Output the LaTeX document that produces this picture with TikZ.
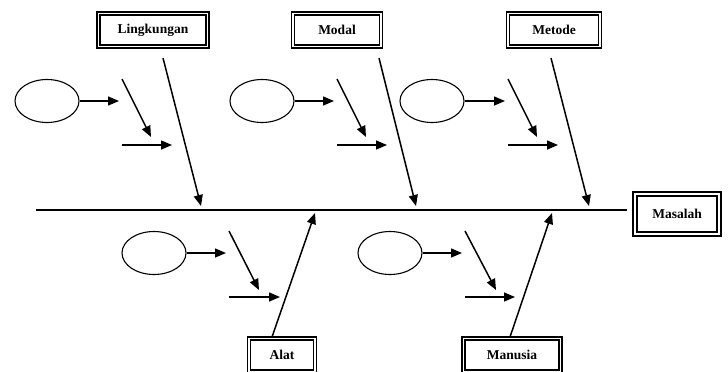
\documentclass[tikz,border=0pt]{standalone}
\usepackage{fontspec}
\setmainfont{Liberation Serif}
\usetikzlibrary{arrows.meta,shapes.geometric}

\begin{document}
\begin{tikzpicture}[x=1pt,y=-1pt,
      factor/.style={draw, double, line width=1.3pt, double distance=1.6pt, inner sep=0pt,
        minimum height=33pt, font=\fontsize{13.5}{14}\selectfont\bfseries},
      cause/.style={draw, ellipse, line width=1.1pt, minimum width=64pt, minimum height=43pt, inner sep=0pt},
      arr/.style={line width=1.5pt, -{Triangle[length=11pt,width=9pt]}}]
      \useasboundingbox (0,0) rectangle (728,372);
      \node [factor, minimum width=109pt] (lingkungan) at (153,30) {Lingkungan};
      \node [factor, minimum width=88pt] (modal) at (337,30) {Modal};
      \node [factor, minimum width=92pt] (metode) at (554,30) {Metode};
      \node [factor, minimum width=84pt, minimum height=40pt, line width=2pt] (masalah) at (677,214) {Masalah};
      \node [factor, minimum width=66pt] (alat) at (282,355) {Alat};
      \node [factor, minimum width=97pt] (manusia) at (512,355) {Manusia};
      \coordinate (s0) at (36,210);
      \coordinate (s1) at (627,210);
      \draw [line width=2.8pt] (s0) -- (s1);
      \coordinate (l1) at (163,58);
      \coordinate (l2) at (201,206);
      \draw [arr] (l1) -- (l2);
      \coordinate (m1) at (379,58);
      \coordinate (m2) at (416,206);
      \draw [arr] (m1) -- (m2);
      \coordinate (t1) at (551,58);
      \coordinate (t2) at (589,206);
      \draw [arr] (t1) -- (t2);
      \coordinate (a1) at (272,337);
      \coordinate (a2) at (315,213);
      \draw [arr] (a1) -- (a2);
      \coordinate (n1) at (510,337);
      \coordinate (n2) at (552,213);
      \draw [arr] (n1) -- (n2);
      \node [cause] (c1) at (47,101) {};
      \coordinate (c1a) at (119,101);
      \draw [arr] (c1.east) -- (c1a);
      \coordinate (c1b) at (122,79);
      \coordinate (c1c) at (151,137);
      \draw [arr] (c1b) -- (c1c);
      \coordinate (c1d) at (122,145);
      \coordinate (c1e) at (172,145);
      \draw [arr] (c1d) -- (c1e);
      \node [cause] (c2) at (262,101) {};
      \coordinate (c2a) at (334,101);
      \draw [arr] (c2.east) -- (c2a);
      \coordinate (c2b) at (337,79);
      \coordinate (c2c) at (366,137);
      \draw [arr] (c2b) -- (c2c);
      \coordinate (c2d) at (337,145);
      \coordinate (c2e) at (387,145);
      \draw [arr] (c2d) -- (c2e);
      \node [cause] (c3) at (432,101) {};
      \coordinate (c3a) at (505,101);
      \draw [arr] (c3.east) -- (c3a);
      \coordinate (c3b) at (508,79);
      \coordinate (c3c) at (537,137);
      \draw [arr] (c3b) -- (c3c);
      \coordinate (c3d) at (508,145);
      \coordinate (c3e) at (558,145);
      \draw [arr] (c3d) -- (c3e);
      \node [cause] (c4) at (154,253) {};
      \coordinate (c4a) at (226,253);
      \draw [arr] (c4.east) -- (c4a);
      \coordinate (c4b) at (229,231);
      \coordinate (c4c) at (259,290);
      \draw [arr] (c4b) -- (c4c);
      \coordinate (c4d) at (229,297);
      \coordinate (c4e) at (280,297);
      \draw [arr] (c4d) -- (c4e);
      \node [cause] (c5) at (390,253) {};
      \coordinate (c5a) at (462,253);
      \draw [arr] (c5.east) -- (c5a);
      \coordinate (c5b) at (465,231);
      \coordinate (c5c) at (496,290);
      \draw [arr] (c5b) -- (c5c);
      \coordinate (c5d) at (465,297);
      \coordinate (c5e) at (515,297);
      \draw [arr] (c5d) -- (c5e);
      \end{tikzpicture}
\end{document}
